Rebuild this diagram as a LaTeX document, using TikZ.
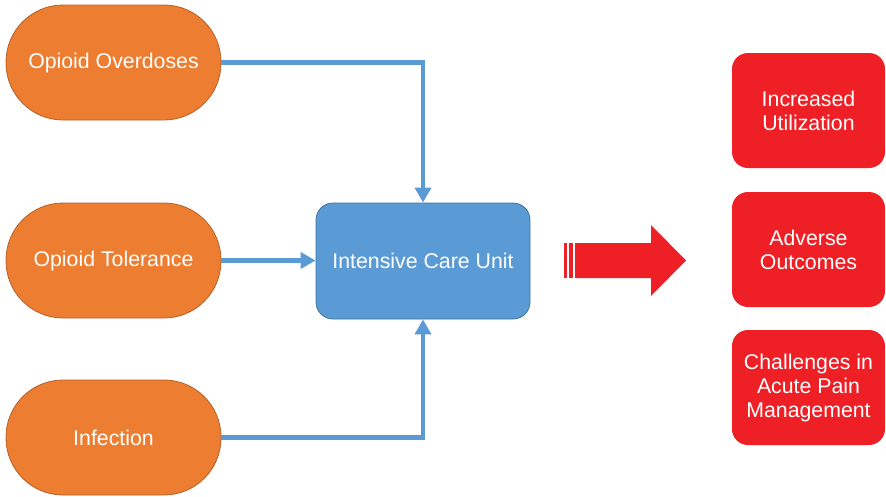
\documentclass[tikz,border=0pt]{standalone}
\usepackage{fontspec}
\setmainfont{Liberation Sans}
\usetikzlibrary{arrows.meta}
\definecolor{cause}{HTML}{ED7D31}
\definecolor{causeedge}{HTML}{B5612A}
\definecolor{unit}{HTML}{5B9BD5}
\definecolor{unitedge}{HTML}{41719C}
\definecolor{outcome}{HTML}{EE2026}
\tikzset{
  x=1pt, y=-1pt,
  label text/.style={text=white, font=\fontsize{21.3}{24}\selectfont, align=center},
  cause box/.style={label text, fill=cause, draw=causeedge, line width=0.8pt,
    minimum width=215pt, minimum height=115pt, rounded corners=57pt},
  unit box/.style={label text, fill=unit, draw=unitedge, line width=0.8pt,
    minimum width=214pt, minimum height=116pt, rounded corners=17pt},
  outcome box/.style={label text, fill=outcome, draw=none,
    minimum width=153pt, minimum height=115pt, rounded corners=16pt},
  link/.style={draw=unit, line width=4.5pt,
    -{Triangle[width=16pt,length=15pt]}}
}
\begin{document}
\begin{tikzpicture}
\useasboundingbox (0,0) rectangle (886,496);

% causes
\node[cause box] (over) at (113.5,62.5) {Opioid Overdoses};
\node[cause box] (tol) at (113.5,260.5) {Opioid Tolerance};
\node[cause box] (inf) at (113.5,437.5) {Infection};

% intensive care unit
\node[unit box] (icu) at (423,261) {Intensive Care Unit};

% outcomes
\node[outcome box] (util) at (808.5,110.5) {Increased\\Utilization};
\node[outcome box] (adv) at (808.5,249.5) {Adverse\\Outcomes};
\node[outcome box] (pain) at (808.5,387.5) {Challenges in\\Acute Pain\\Management};

% connectors
\draw[link] (over.east) -| (icu.north);
\draw[link] (tol.east) -- (icu.west |- tol.east);
\draw[link] (inf.east) -| (icu.south);

% striped block arrow towards the outcomes
\fill[outcome] (575,243) -- (651,243) -- (651,225) -- (686,260.5)
  -- (651,296) -- (651,278) -- (575,278) -- cycle;
\fill[outcome] (564,243) rectangle (566.5,278);
\fill[outcome] (569,243) rectangle (572.5,278);
\end{tikzpicture}
\end{document}
